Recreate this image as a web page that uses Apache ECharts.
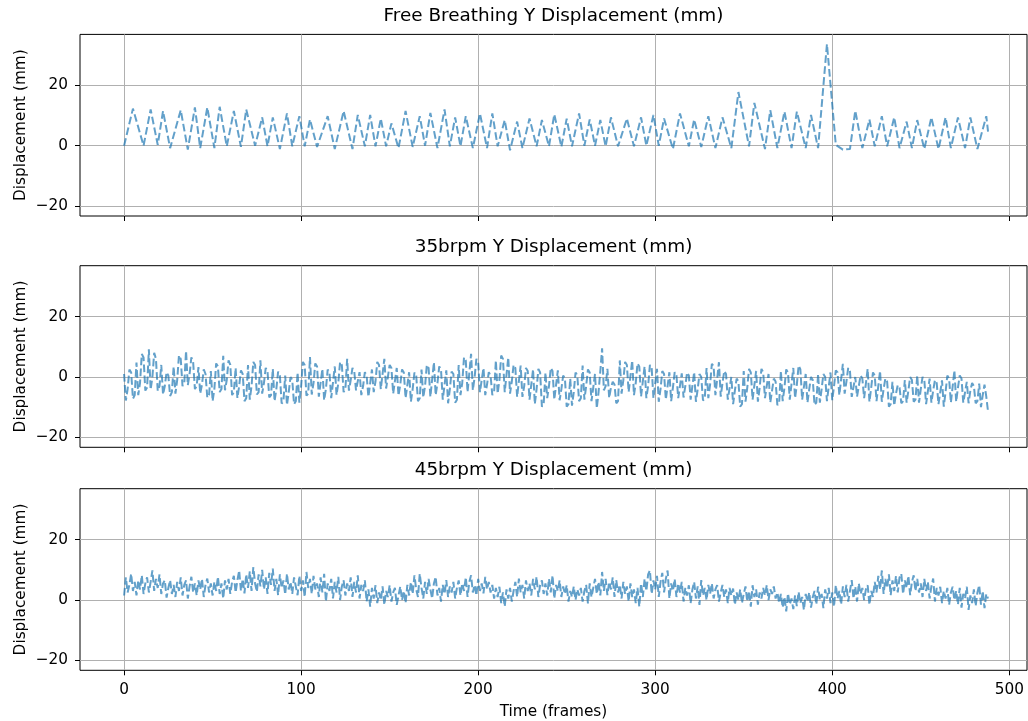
<!DOCTYPE html>
<html>
<head>
<meta charset="utf-8">
<script src="https://cdn.jsdelivr.net/npm/echarts@6.0.0/dist/echarts.min.js"></script>
<style>
  html, body { margin: 0; padding: 0; background: #fff; }
  #chart { width: 1028px; height: 721px; }
</style>
</head>
<body>
<div id="chart"></div>
<script>
// panel titles
const titles = [
  'Free Breathing Y Displacement (mm)',
  '35brpm Y Displacement (mm)',
  '45brpm Y Displacement (mm)'
]
const xTicks = [0, 100, 200, 300, 400, 500]
const yTicks = [-20, 0, 20]

// free breathing: turning points (frame, mm)
const fbFrames = [0, 5, 11, 15, 19, 22, 26, 32, 36, 40,
  43, 47, 51, 54, 58, 62, 66, 69, 74, 78,
  81, 84, 88, 92, 95, 99, 102, 105, 109, 115,
  119, 124, 129, 132, 136, 139, 142, 145, 148, 151,
  155, 159, 163, 167, 170, 173, 177, 181, 184, 187,
  190, 193, 197, 201, 205, 208, 211, 215, 218, 222,
  225, 229, 233, 236, 240, 243, 247, 250, 253, 257,
  260, 263, 266, 269, 272, 275, 279, 284, 288, 292,
  295, 299, 302, 305, 310, 314, 319, 322, 326, 330,
  334, 338, 343, 347, 353, 356, 362, 365, 369, 373,
  377, 380, 385, 388, 392, 397, 402, 406, 410, 413,
  417, 421, 424, 428, 431, 435, 438, 442, 445, 448,
  452, 456, 460, 464, 467, 471, 475, 478, 482, 487,
  488]
const fbValues = [0, 12.3, 0, 12, 0.3, 11.5, -0.8, 11.8, -1.3, 12.7,
  -0.8, 12.7, -0.8, 12.9, -0.2, 11.5, -0.4, 12, 0, 9.4,
  -0.2, 9.4, -1.1, 10.7, -0.2, 9.8, -0.2, 8.7, -0.4, 9.8,
  -1.1, 11.5, -1.1, 10.2, -0.2, 10.2, -0.2, 9, -0.2, 7.4,
  -0.8, 11.5, -0.4, 9.8, 0, 10.9, -0.8, 12, -0.2, 9.4,
  -0.2, 9.8, -0.8, 10.7, -0.8, 10.7, -0.2, 8.5, -1.5, 8,
  -0.8, 9, -0.2, 8.5, -0.2, 10.4, -0.4, 9, -0.2, 10.7,
  0, 8.7, 0, 8.5, -0.2, 9.4, -0.2, 9, -0.2, 9.4,
  0, 10.2, 0, 9, -1.1, 10.7, -0.2, 8.7, -0.4, 9.8,
  -0.8, 9.4, -0.8, 17.8, -0.2, 14.2, -1.1, 11.8, -0.8, 11.3,
  -0.8, 11.3, -0.8, 10.2, -0.8, 33.7, 0.3, -1.3, -1.1, 11.6,
  -0.8, 8.7, -0.2, 9.8, -0.2, 9.4, -0.8, 8, -0.8, 8.5,
  -1.1, 9.4, -1.1, 9.4, -0.8, 9.4, -0.8, 9.4, -1.1, 9.8,
  4.7]

// 35brpm, one value per frame (0..488)
const b35Values = [
  1.0, -7.8, -4.0, 2.5, 1.5, -7.2, -6.0, 4.8, -6.0, -2.0,
  7.6, 6.5, -4.5, -3.5, 9.2, -4.2, 0.0, 8.0, 6.0, -4.6,
  -3.0, 4.0, -5.8, -3.0, 1.6, 0.5, -6.3, -5.0, 3.5, -5.5,
  -1.0, 7.2, 6.0, -3.0, -2.0, 8.7, -2.7, 1.0, 6.5, 5.0,
  -4.0, -3.0, 3.3, -5.5, -2.5, 2.5, 1.0, -6.8, -6.0, 2.0,
  -8.0, -4.0, 4.5, 3.5, -5.0, -4.0, 7.0, -4.4, -1.0, 5.5,
  4.0, -6.0, -5.0, 3.0, -7.0, -3.0, 2.2, 1.0, -8.0, -7.0,
  4.0, -7.5, -3.0, 5.0, 4.0, -5.8, -5.0, 5.5, -5.5, -2.0,
  3.0, 2.0, -6.8, -6.0, 2.7, -8.0, -4.0, 1.8, 0.5, -8.8,
  -8.0, 0.5, -9.3, -5.0, 0.0, -1.0, -9.0, -8.0, 1.5, -8.5,
  -3.0, 5.0, 4.0, -6.2, -5.5, 6.6, -5.8, -2.0, 4.5, 3.5,
  -6.5, -6.0, 2.7, -7.7, -4.0, 2.5, 1.5, -7.0, -6.5, 3.5,
  -6.0, -2.0, 5.0, 4.0, -5.0, -4.0, 6.0, -4.5, -1.0, 3.0,
  2.0, -4.4, -4.0, 1.6, -6.0, -3.0, 1.6, 0.5, -6.6, -6.0,
  2.5, -5.0, -1.5, 5.0, 4.0, -4.0, -3.5, 6.0, -3.8, 0.0,
  4.0, 3.0, -5.5, -5.0, 3.0, -6.2, -2.5, 2.5, 1.5, -7.0,
  -6.5, 1.6, -8.2, -4.0, 1.5, 0.5, -8.0, -7.0, 2.5, -6.8,
  -3.0, 4.0, 3.0, -6.6, -6.0, 4.9, -6.0, -2.0, 3.5, 2.5,
  -7.5, -7.0, 2.2, -8.7, -4.0, 1.8, 1.0, -8.5, -7.5, 4.0,
  -6.0, -2.0, 6.5, 5.5, -5.0, -4.4, 7.7, -4.4, 0.0, 6.0,
  5.0, -5.0, -4.5, 3.0, -6.0, -2.5, 1.6, 0.5, -6.0, -5.0,
  5.5, -5.5, -1.0, 7.1, 6.0, -5.0, -4.5, 6.5, -5.5, -1.5,
  4.0, 3.0, -6.6, -6.0, 3.8, -6.6, -3.0, 3.0, 2.0, -7.5,
  -7.0, 2.5, -9.0, -4.0, 2.7, 1.5, -9.8, -9.0, 1.5, -7.0,
  -3.0, 3.0, 2.0, -7.5, -7.0, 2.2, -7.7, -4.0, 0.5, -0.5,
  -9.8, -9.0, -0.5, -9.5, -5.0, 1.5, 0.5, -8.0, -7.0, 3.8,
  -7.5, -3.0, 2.5, 1.5, -8.0, -7.5, 1.0, -10.4, -5.0, 2.0,
  9.5, -4.4, -3.0, 2.7, -7.0, -3.5, -1.6, -2.5, -8.7, -8.0,
  5.5, -5.5, -1.0, 5.0, 4.0, -5.0, -4.5, 5.5, -6.0, -2.0,
  4.5, 3.5, -6.5, -6.0, 3.5, -7.0, -3.0, 4.0, 3.0, -7.0,
  -6.5, 2.7, -8.2, -4.0, 2.0, 1.0, -7.5, -7.0, 1.6, -8.0,
  -3.5, 1.6, 0.5, -7.0, -6.5, 1.2, -6.8, -3.0, 1.5, 0.5,
  -7.5, -7.0, 1.6, -8.2, -4.0, 1.0, 0.0, -7.8, -7.0, 3.0,
  -7.0, -2.5, 4.4, 3.5, -6.0, -5.5, 4.9, -6.5, -2.0, 2.0,
  1.0, -7.5, -7.0, 0.0, -9.0, -4.5, -0.5, -1.5, -9.8, -9.0,
  2.0, -8.2, -3.5, 2.7, 1.5, -7.5, -7.0, 2.0, -8.2, -3.5,
  2.7, 1.5, -7.0, -6.5, 1.0, -8.5, -4.5, -0.5, -1.5, -9.3,
  -8.5, 2.0, -8.0, -3.5, 2.5, 1.5, -7.5, -7.0, 3.0, -7.0,
  -2.5, 3.8, 2.5, -7.5, -7.0, 1.0, -8.5, -4.0, 0.0, -1.0,
  -9.3, -8.5, 1.0, -8.5, -4.0, 1.0, 0.0, -8.0, -7.5, 1.5,
  -7.7, -3.0, 2.2, 1.5, -6.0, -5.5, 4.4, -5.5, -1.5, 3.0,
  2.0, -6.6, -6.0, 0.0, -6.5, -3.0, 0.5, -0.5, -7.0, -6.5,
  2.7, -8.2, -3.5, 1.5, 0.5, -8.0, -7.5, 2.0, -8.2, -4.0,
  -0.5, -1.5, -9.8, -9.0, -1.6, -9.5, -5.5, -2.7, -3.5, -8.7,
  -8.0, -1.0, -8.5, -4.5, 0.0, -1.0, -8.2, -7.5, 0.5, -8.5,
  -4.0, 0.0, -1.0, -9.0, -8.5, -0.5, -8.5, -4.5, -1.0, -2.0,
  -9.0, -8.5, -1.1, -9.8, -5.0, 0.5, -0.5, -8.5, -8.0, 2.2,
  -8.2, -3.5, 0.5, -0.5, -8.5, -8.0, -1.6, -8.7, -4.5, -2.0,
  -3.0, -8.7, -8.0, -2.2, -10.0, -6.0, -2.5, -6.5, -11.5
]

// 45brpm, one value per frame (0..488)
const b45Values = [
  1.5, 7.5, 2.5, 5.0, 8.7, 3.0, 6.0, 1.5, 6.5, 3.5,
  8.2, 2.0, 5.5, 7.5, 2.5, 6.0, 9.8, 3.0, 7.0, 4.0,
  8.5, 2.0, 5.5, 6.5, 0.8, 4.0, 6.6, 2.0, 5.0, 1.0,
  6.0, 3.0, 7.5, 1.5, 5.0, 6.5, 0.5, 4.5, 7.7, 2.5,
  5.5, 1.5, 6.5, 3.5, 7.0, 1.0, 5.0, 7.1, 2.5, 5.5,
  1.5, 6.0, 3.0, 7.7, 2.0, 5.5, 0.5, 6.5, 3.5, 7.0,
  2.0, 6.0, 8.0, 2.5, 6.5, 9.8, 3.0, 7.0, 2.2, 8.5,
  4.0, 9.5, 3.0, 10.9, 5.5, 2.7, 8.5, 4.5, 10.0, 3.5,
  7.5, 2.0, 9.0, 5.0, 10.4, 3.0, 7.0, 1.6, 8.5, 4.0,
  6.5, 1.8, 8.7, 3.5, 6.0, 2.0, 7.5, 4.5, 1.6, 8.0,
  3.0, 6.5, 1.0, 9.3, 4.0, 7.0, 2.0, 8.0, 3.5, 5.5,
  1.0, 7.5, 2.5, 8.7, -0.5, 5.5, 3.0, 7.0, 0.5, 6.0,
  2.5, 7.7, 0.0, 4.5, 6.5, 1.5, 5.5, 3.0, 7.5, 1.0,
  6.0, 2.5, 8.2, 0.5, 5.0, 3.0, 6.5, -0.5, 3.5, -2.2,
  4.0, 0.5, 4.9, -1.0, 2.5, 0.0, 4.5, -1.6, 3.0, 1.0,
  4.9, -0.5, 2.5, 4.0, -1.6, 1.5, 4.5, 0.0, 3.0, -1.0,
  5.0, 1.5, 6.0, 2.0, 8.2, 3.5, 1.0, 8.7, 4.0, 0.5,
  6.0, 2.0, 7.0, 3.5, 0.5, 5.5, 7.7, 1.5, 4.0, -0.5,
  5.0, 2.0, 6.6, 1.0, 4.5, 2.5, 6.0, 0.5, 4.0, 6.5,
  1.5, 5.5, 3.0, 7.5, 1.0, 6.0, 8.2, 2.5, 5.0, 1.5,
  7.0, 3.0, 5.5, 2.2, 7.7, 3.5, 6.0, 2.5, 5.0, 0.5,
  4.0, 1.0, 4.4, -1.0, 2.5, -2.2, 3.5, 0.5, 4.0, -0.5,
  3.0, 6.0, 1.0, 7.1, 2.5, 5.0, 0.5, 6.5, 3.0, 5.5,
  1.5, 7.0, 3.5, 7.7, 1.0, 5.0, 6.5, 2.0, 5.5, 1.5,
  7.0, 2.5, 8.2, 0.5, 5.0, 3.0, 6.5, 1.0, 4.5, 2.0,
  4.9, -0.5, 3.0, 1.0, 4.5, 0.0, 3.5, 1.5, 4.0, -0.5,
  3.0, 5.0, -1.1, 5.5, 1.0, 4.0, 7.0, 2.0, 6.0, 1.5,
  9.3, 3.0, 7.0, 1.6, 6.0, 3.5, 7.5, 1.0, 6.6, 2.5,
  5.0, 0.5, 6.0, 2.0, 4.5, -0.5, 5.5, 1.0, 3.5, -1.0,
  4.0, -2.2, 5.5, 1.0, 7.0, 3.0, 8.5, 9.8, 2.0, 6.5,
  3.5, 8.0, 1.0, 6.0, 9.0, 2.5, 7.0, 9.8, 0.5, 5.5,
  3.0, 7.0, 1.0, 5.5, 2.5, 6.0, -0.5, 4.0, 1.5, 4.9,
  -1.1, 3.5, 6.0, 0.5, 4.5, -1.6, 6.6, 1.5, 4.0, 0.0,
  5.0, 2.0, 5.5, 0.5, 3.5, 4.9, -0.5, 2.5, 5.0, 1.0,
  3.5, -1.0, 4.0, 1.5, 3.8, -1.6, 2.5, 0.0, 3.5, -1.0,
  2.0, 4.5, -0.5, 3.0, -2.2, 4.9, 1.0, 3.5, -1.5, 2.5,
  0.5, 4.0, 1.5, 4.9, 0.0, 3.5, 2.0, 4.5, 0.5, 2.5,
  -1.0, 2.0, -2.5, 1.0, -3.8, 2.2, -1.5, 0.5, -3.0, 1.5,
  -2.0, 2.7, -1.0, 1.0, -3.3, 2.0, -0.5, 2.5, -2.5, 1.0,
  3.0, -1.5, 4.4, 0.0, 2.0, -2.7, 3.5, 0.5, 4.0, -1.0,
  2.5, -2.2, 4.9, 0.5, 3.0, -1.5, 4.5, 1.0, 5.0, -0.5,
  3.0, 6.6, 0.5, 4.5, -0.5, 5.5, 2.0, 4.0, 0.0, 3.5,
  4.9, -1.6, 3.0, 1.0, 6.0, 2.5, 8.0, 3.5, 9.8, 2.0,
  7.0, 4.0, 8.5, 1.6, 6.5, 3.0, 8.0, 2.5, 7.5, 8.7,
  2.0, 6.5, 4.0, 8.0, 1.6, 6.0, 8.2, 3.0, 7.0, 2.5,
  5.5, 1.0, 7.0, 3.0, 6.0, 0.5, 4.5, 7.1, -0.5, 4.0,
  1.5, 4.4, -1.0, 3.0, 0.5, 4.0, -1.6, 2.5, 4.4, 0.0,
  3.0, -1.5, 4.0, -2.5, 2.0, 0.5, 4.4, -3.3, 1.5, -1.0,
  3.5, -2.0, 2.5, 4.9, -1.5, 3.0, -2.7, 2.0, 0.5
]

const FONT = 'DejaVu Sans'
const minus = v => (v < 0 ? '\u2212' + Math.abs(v) : String(v))

const chart = echarts.init(document.getElementById('chart'), null, { renderer: 'canvas' })

const gridTops = [34.4, 265.7, 488.7]
const titleTops = [7, 238, 461]

const lineStyle = {
  color: 'rgba(31,119,180,0.7)',
  width: 2,
  type: [7.7, 3.3],
  cap: 'butt'
}

const seriesData = [
  fbFrames.map((f, i) => [f, fbValues[i]]),
  b35Values.map((v, i) => [i, v]),
  b45Values.map((v, i) => [i, v])
]

const option = {
  animation: false,
  backgroundColor: '#fff',
  title: titles.map((t, i) => ({
    text: t,
    left: 553.5,
    top: titleTops[i],
    textAlign: 'center',
    padding: 0,
    textStyle: { fontFamily: FONT, fontSize: 18.4, fontWeight: 'normal', color: '#000' }
  })),
  grid: gridTops.map(top => ({
    left: 80,
    right: 1,
    top: top,
    height: 181.6,
    show: true,
    borderColor: '#000',
    borderWidth: 1,
    backgroundColor: 'transparent',
    containLabel: false,
    outerBoundsMode: 'none'
  })),
  xAxis: [0, 1, 2].map(i => ({
    type: 'value',
    gridIndex: i,
    min: -24.9,
    max: 510,
    splitNumber: 5,
    axisLine: { show: false, onZero: false },
    axisTick: {
      show: true,
      length: 5,
      customValues: xTicks,
      lineStyle: { color: '#000', width: 1 }
    },
    axisLabel: {
      show: i === 2,
      customValues: xTicks,
      margin: 12,
      color: '#000',
      fontFamily: FONT,
      fontSize: 15.3,
      formatter: v => (v % 100 === 0 ? minus(v) : '')
    },
    splitLine: {
      show: true,
      lineStyle: { color: '#b0b0b0', width: 1 }
    },
    name: i === 2 ? 'Time (frames)' : '',
    nameLocation: 'middle',
    nameGap: 34,
    nameTextStyle: { fontFamily: FONT, fontSize: 15.3, color: '#000' }
  })),
  yAxis: [0, 1, 2].map(i => ({
    type: 'value',
    gridIndex: i,
    min: -23.3,
    max: 36.9,
    splitNumber: 3,
    axisLine: { show: false, onZero: false },
    axisTick: {
      show: true,
      length: 5,
      customValues: yTicks,
      lineStyle: { color: '#000', width: 1 }
    },
    axisLabel: {
      customValues: yTicks,
      margin: 12,
      color: '#000',
      fontFamily: FONT,
      fontSize: 15.3,
      formatter: v => (v % 20 === 0 ? minus(v) : '')
    },
    splitLine: {
      show: true,
      lineStyle: { color: '#b0b0b0', width: 1 }
    },
    name: 'Displacement (mm)',
    nameLocation: 'middle',
    nameGap: 51,
    nameMoveOverlap: false,
    nameTextStyle: { fontFamily: FONT, fontSize: 15.3, color: '#000' }
  })),
  series: seriesData.map((d, i) => ({
    type: 'line',
    xAxisIndex: i,
    yAxisIndex: i,
    data: d,
    symbol: 'none',
    showSymbol: false,
    smooth: false,
    lineStyle: lineStyle
  }))
}

chart.setOption(option)
</script>
</body>
</html>
